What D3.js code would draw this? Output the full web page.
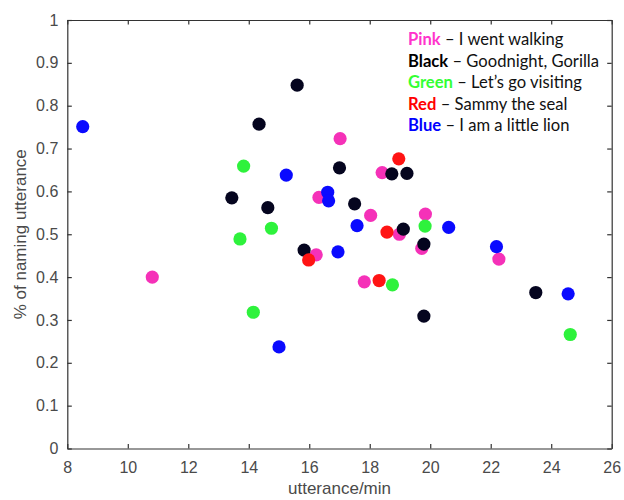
<!DOCTYPE html>
<html>
<head>
<meta charset="utf-8">
<script src="https://cdn.jsdelivr.net/npm/d3@7"></script>
<style>
  body { margin: 0; background: #fff; }
  .tick text { font-family: "Liberation Sans", Arial, sans-serif; font-size: 16px; fill: #4a4a4a; }
  .legend { font-family: Lato, "Open Sans", sans-serif; font-size: 16.6px; }
</style>
</head>
<body>
<div id="chart"></div>
<script>
// values: [utterance/min, share of naming utterances]
const pinkPts = [[17.02,0.723],[18.41,0.644],[16.32,0.586],[18.03,0.544],[19.84,0.547],[18.98,0.500],
                 [19.72,0.467],[16.23,0.452],[10.81,0.400],[17.82,0.389],[22.27,0.442]];
const blackPts = [[15.60,0.848],[14.34,0.757],[17.00,0.655],[18.73,0.641],[19.23,0.642],[13.44,0.585],
                  [14.63,0.562],[17.50,0.571],[19.11,0.512],[19.79,0.477],[15.83,0.463],[19.79,0.309],[23.49,0.364]];
const greenPts = [[13.83,0.659],[14.75,0.514],[13.71,0.489],[19.83,0.519],[14.15,0.318],[18.75,0.382],[24.63,0.266]];
const redPts = [[18.96,0.676],[18.57,0.505],[15.98,0.440],[18.31,0.392]];
const bluePts = [[8.51,0.751],[15.24,0.638],[16.61,0.598],[16.64,0.578],[20.61,0.516],[17.58,0.520],
                 [16.95,0.459],[15.00,0.237],[22.19,0.471],[24.56,0.361]];

const legendKeys = ["Pink", "Black", "Green", "Red", "Blue"];
const legendTitles = ["I went walking", "Goodnight, Gorilla", "Let\u2019s go visiting", "Sammy the seal", "I am a little lion"];

const xTicks = [8, 10, 12, 14, 16, 18, 20, 22, 24, 26];
const yTicks = [0, 0.1, 0.2, 0.3, 0.4, 0.5, 0.6, 0.7, 0.8, 0.9, 1];

let width = 624,
    height = 500,
    margin = ({ top: 20, right: 12.3, bottom: 51.5, left: 67.3 });

const dotColors = ["#f531b8", "#05051f", "#2ef23c", "#ff1414", "#0a0aff"];
const textColors = ["#ff33cc", "#000000", "#33ff33", "#ff0000", "#0000ff"];

const svg = d3.select("#chart")
  .append("svg")
  .attr("width", width)
  .attr("height", height);

let x = d3.scaleLinear()
  .domain([8, 26])
  .range([margin.left, width - margin.right]);

let y = d3.scaleLinear()
  .domain([0, 1])
  .range([height - margin.bottom, margin.top]);

const axisColor = "#333";

// bottom + left axes with inward ticks (matlab style)
let gx = svg.append("g")
  .attr("transform", `translate(0,${height - margin.bottom})`)
  .call(d3.axisBottom(x).tickValues(xTicks).tickSize(-4.5).tickPadding(13).tickSizeOuter(0));

let gy = svg.append("g")
  .attr("transform", `translate(${margin.left},0)`)
  .call(d3.axisLeft(y).tickValues(yTicks).tickSize(-4.5).tickPadding(9).tickFormat(d3.format("")).tickSizeOuter(0));

// mirrored box on top and right
let gt = svg.append("g")
  .attr("transform", `translate(0,${margin.top})`)
  .call(d3.axisTop(x).tickValues(xTicks).tickSize(-4.5).tickFormat("").tickSizeOuter(0));

let gr = svg.append("g")
  .attr("transform", `translate(${width - margin.right},0)`)
  .call(d3.axisRight(y).tickValues(yTicks).tickSize(-4.5).tickFormat("").tickSizeOuter(0));

[gx, gy, gt, gr].forEach(g => {
  g.selectAll("path, line").attr("stroke", axisColor).attr("stroke-width", 1.2);
});

svg.append("text")
  .attr("x", (x.range()[0] + x.range()[1]) / 2)
  .attr("y", 494)
  .attr("text-anchor", "middle")
  .attr("font-family", "Liberation Sans, Arial, sans-serif")
  .attr("font-size", 17)
  .attr("fill", "#4a4a4a")
  .text("utterance/min");

svg.append("text")
  .attr("transform", `translate(26,${(y.range()[0] + y.range()[1]) / 2}) rotate(-90)`)
  .attr("text-anchor", "middle")
  .attr("font-family", "Liberation Sans, Arial, sans-serif")
  .attr("font-size", 17)
  .attr("fill", "#4a4a4a")
  .text("% of naming utterance");

// points, drawn in legend order so overlaps stack like the original
const groups = [pinkPts, blackPts, greenPts, redPts, bluePts];
groups.forEach((pts, i) => {
  svg.append("g")
    .selectAll("circle")
    .data(pts)
    .join("circle")
    .attr("cx", d => x(d[0]))
    .attr("cy", d => y(d[1]))
    .attr("r", 6.6)
    .attr("fill", dotColors[i]);
});

// legend text block
let legend = svg.append("text").attr("class", "legend");
legendKeys.forEach((k, i) => {
  let line = legend.append("tspan")
    .attr("x", 408)
    .attr("y", 45 + i * 21.6);
  line.text(k)
    .attr("font-weight", "bold")
    .attr("fill", textColors[i]);
  legend.append("tspan")
    .attr("fill", "#111")
    .text(" \u2013 " + legendTitles[i]);
});
</script>
</body>
</html>
